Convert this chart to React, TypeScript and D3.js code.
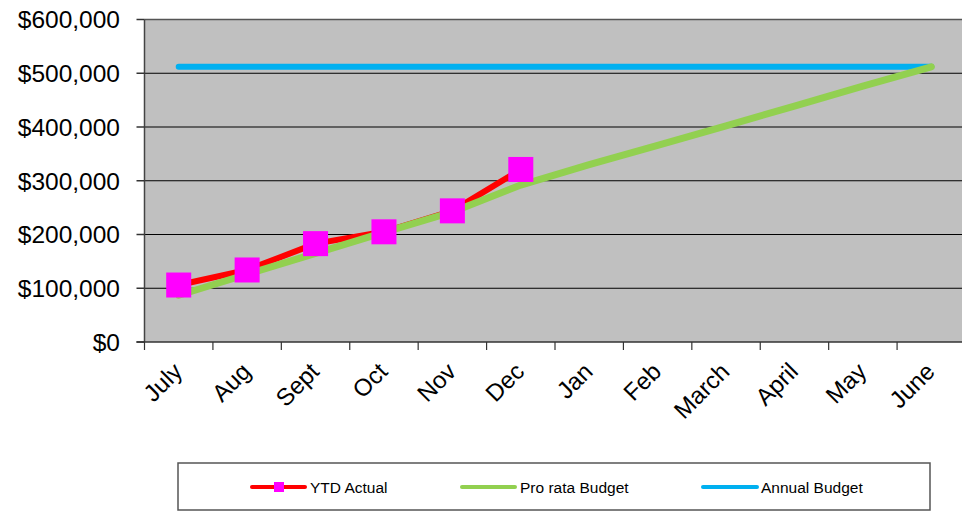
import * as d3 from "d3"

const months = ["July", "Aug", "Sept", "Oct", "Nov", "Dec", "Jan", "Feb", "March", "April", "May", "June"]
const ytdActual = [106000, 134000, 183000, 205000, 244000, 321000]
const proRata = [87000, 126000, 165000, 204000, 242000, 292000, 330000, 366000, 402000, 439000, 476000, 512000]
const annualBudget = [512000, 512000, 512000, 512000, 512000, 512000, 512000, 512000, 512000, 512000, 512000, 512000]
const yTicks = [0, 100000, 200000, 300000, 400000, 500000, 600000]

const W = 962
const H = 513
const plot = { left: 144.5, right: 965.5, top: 19.5, bottom: 342 }
const font = "'Liberation Sans', Arial, sans-serif"

export default function App() {
  const x = d3.scaleBand().domain(months).range([plot.left, plot.right])
  const y = d3.scaleLinear().domain([0, 600000]).range([plot.bottom, plot.top])
  const cx = (m: string) => (x(m) || 0) + x.bandwidth() / 2
  const fmt = (v: number) => "$" + d3.format(",")(v)

  const line = d3
    .line<number>()
    .x((_, i) => cx(months[i]))
    .y((d) => y(d))

  return (
    <svg width={W} height={H} style={{ position: "absolute", left: 0, top: 0, fontFamily: font }}>
      <rect x={0} y={0} width={W} height={H} fill="#fff" />
      {/* plot area */}
      <rect x={plot.left} y={plot.top} width={plot.right - plot.left} height={plot.bottom - plot.top} fill="#c0c0c0" />
      <line x1={plot.left} x2={plot.right} y1={plot.top} y2={plot.top} stroke="#555" strokeWidth={1.5} />
      {yTicks.slice(1, -1).map((t) => (
        <line key={t} x1={plot.left} x2={plot.right} y1={y(t)} y2={y(t)} stroke="#000" strokeWidth={1} />
      ))}

      {/* axes */}
      <line x1={plot.left} x2={plot.left} y1={plot.top} y2={plot.bottom} stroke="#444" strokeWidth={1.5} />
      <line x1={plot.left - 8} x2={plot.right} y1={plot.bottom} y2={plot.bottom} stroke="#333" strokeWidth={1.5} />
      {yTicks.map((t) => (
        <g key={t}>
          <line x1={plot.left - 8} x2={plot.left} y1={y(t)} y2={y(t)} stroke="#333" strokeWidth={1.5} />
          <text x={120} y={y(t)} dy="0.36em" textAnchor="end" fontSize={24.5} fill="#000">
            {fmt(t)}
          </text>
        </g>
      ))}
      {months.map((m, i) => (
        <line
          key={"t" + m}
          x1={plot.left + i * x.bandwidth()}
          x2={plot.left + i * x.bandwidth()}
          y1={plot.bottom}
          y2={plot.bottom + 8}
          stroke="#333"
          strokeWidth={1.2}
        />
      ))}
      {months.map((m) => (
        <text
          key={"l" + m}
          transform={`translate(${cx(m) + 5},${373}) rotate(-45)`}
          textAnchor="end"
          fontSize={24}
          fill="#000"
        >
          {m}
        </text>
      ))}

      {/* series */}
      <path d={line(annualBudget) || ""} fill="none" stroke="#00b0f0" strokeWidth={6} strokeLinecap="round" />
      <path d={line(ytdActual) || ""} fill="none" stroke="#ff0000" strokeWidth={6} strokeLinejoin="round" />
      <path d={line(proRata) || ""} fill="none" stroke="#92d050" strokeWidth={7} strokeLinecap="round" strokeLinejoin="round" />
      {ytdActual.map((v, i) => (
        <rect key={"m" + i} x={cx(months[i]) - 12.5} y={y(v) - 12.5} width={25} height={25} fill="#ff00ff" />
      ))}

      {/* legend */}
      <rect x={178} y={463} width={752} height={47} fill="#fff" stroke="#555" strokeWidth={1.5} />
      <line x1={252} x2={305} y1={487} y2={487} stroke="#ff0000" strokeWidth={4} strokeLinecap="round" />
      <rect x={274} y={482} width={10} height={10} fill="#ff00ff" />
      <text x={310} y={487} dy="0.36em" fontSize={15.5} fill="#000">YTD Actual</text>
      <line x1={462} x2={515} y1={487} y2={487} stroke="#92d050" strokeWidth={4} strokeLinecap="round" />
      <text x={520} y={487} dy="0.36em" fontSize={15.5} fill="#000">Pro rata Budget</text>
      <line x1={703} x2={757} y1={487} y2={487} stroke="#00b0f0" strokeWidth={4} strokeLinecap="round" />
      <text x={761} y={487} dy="0.36em" fontSize={15.5} fill="#000">Annual Budget</text>
    </svg>
  )
}
